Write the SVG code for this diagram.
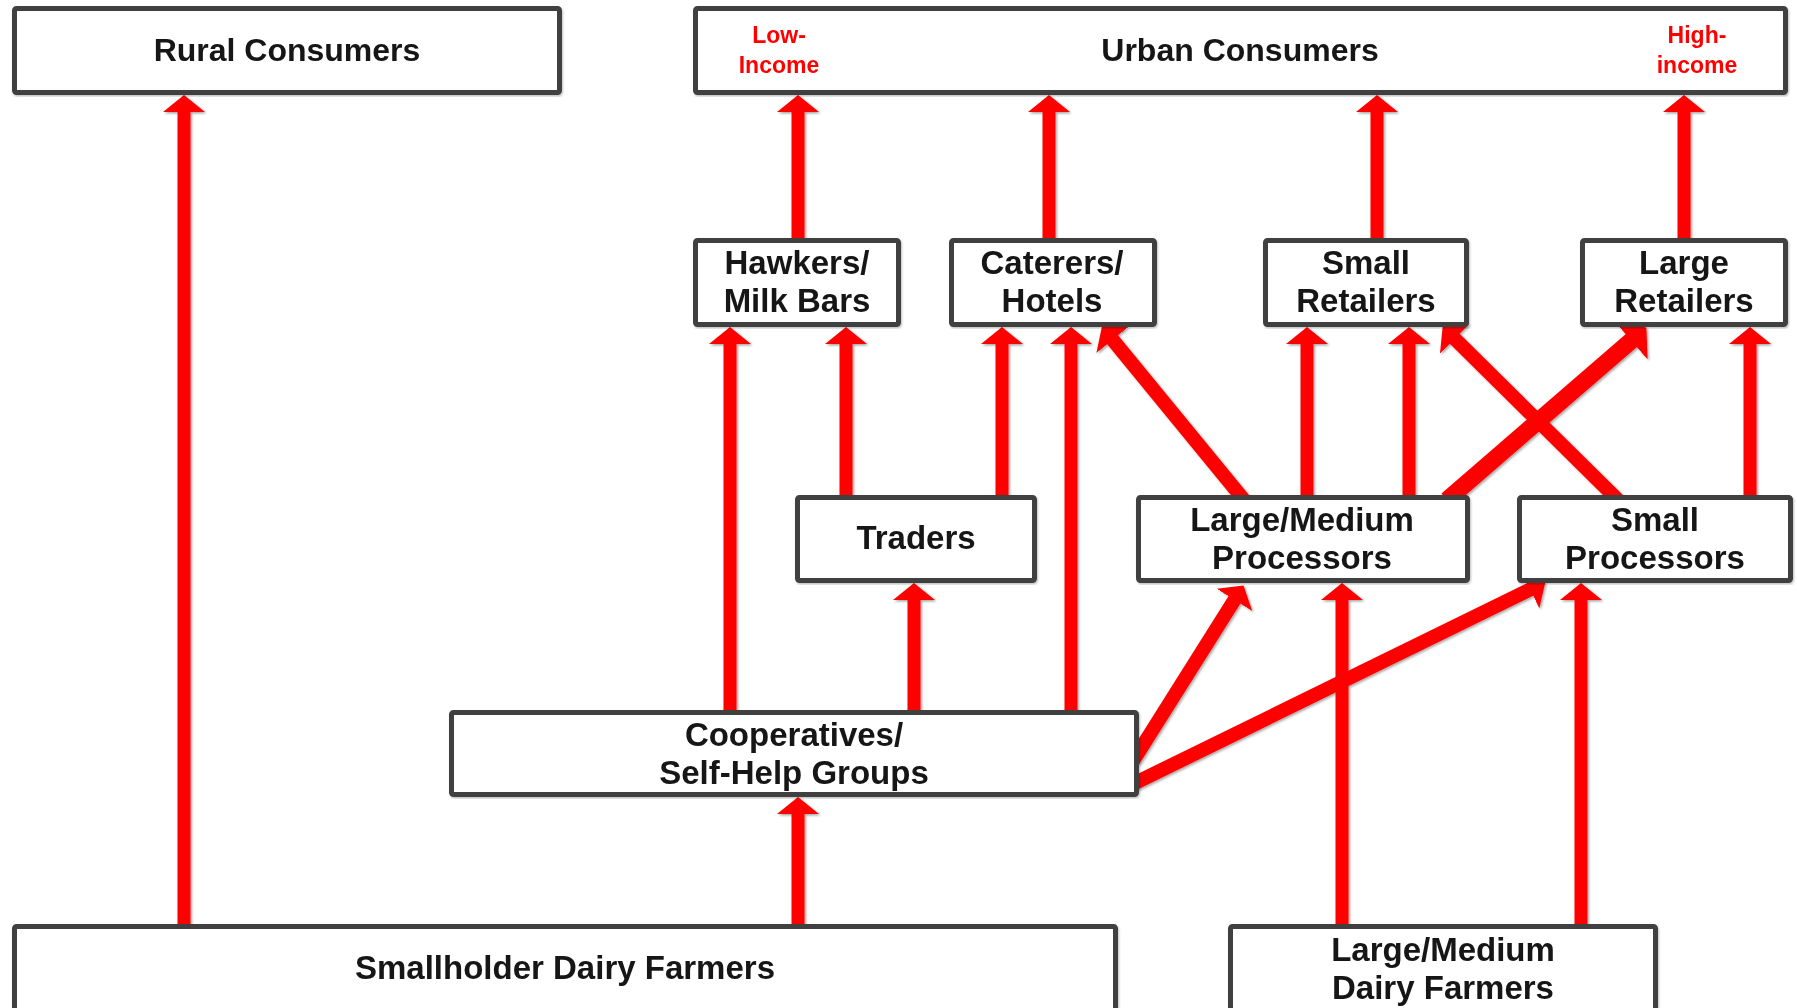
<svg xmlns="http://www.w3.org/2000/svg" width="1797" height="1008" viewBox="0 0 1797 1008">
<style>
.box{fill:#fff;stroke:#404040;stroke-width:5;}
.lbl{font-family:"Liberation Sans",Arial,sans-serif;font-weight:bold;font-size:33px;fill:#141414;text-anchor:middle;}
.big{font-size:32px;}
.red{font-family:"Liberation Sans",Arial,sans-serif;font-weight:bold;font-size:23px;fill:#ff0000;text-anchor:middle;}
.arr{stroke:#ff0000;stroke-width:13;fill:none;marker-end:url(#head);}
.diag{stroke-width:14;}
.thick{stroke-width:17;marker-end:url(#headBig);}
</style>
<defs>
<marker id="head" markerUnits="userSpaceOnUse" viewBox="0 -22 18 44" markerWidth="18" markerHeight="44" refX="1" refY="0" orient="auto">
<path d="M0,-21 L17,0 L0,21 z" fill="#ff0000"/>
</marker>
<marker id="headBig" markerUnits="userSpaceOnUse" viewBox="0 -26 21 52" markerWidth="21" markerHeight="52" refX="1" refY="0" orient="auto">
<path d="M0,-25 L20,0 L0,25 z" fill="#ff0000"/>
</marker>
<filter id="sh" x="-20%" y="-20%" width="140%" height="140%">
<feDropShadow dx="1.5" dy="1.5" stdDeviation="1" flood-color="#000" flood-opacity="0.35"/>
</filter>
<filter id="bsh" x="-5%" y="-5%" width="110%" height="110%">
<feDropShadow dx="1" dy="1.5" stdDeviation="1" flood-color="#000" flood-opacity="0.25"/>
</filter>
</defs>
<rect width="1797" height="1008" fill="#fff"/>
<g id="connectors" filter="url(#sh)">
<line class="arr" x1="184" y1="930" x2="184" y2="111"/>
<line class="arr" x1="798" y1="930" x2="798" y2="813"/>
<line class="arr" x1="730" y1="716" x2="730" y2="343"/>
<line class="arr" x1="914" y1="716" x2="914" y2="599"/>
<line class="arr" x1="1071" y1="716" x2="1071" y2="343"/>
<line class="arr" x1="846" y1="501" x2="846" y2="343"/>
<line class="arr" x1="1002" y1="501" x2="1002" y2="343"/>
<line class="arr" x1="1307" y1="501" x2="1307" y2="343"/>
<line class="arr" x1="1409" y1="501" x2="1409" y2="343"/>
<line class="arr" x1="1750" y1="501" x2="1750" y2="343"/>
<line class="arr" x1="798" y1="244" x2="798" y2="111"/>
<line class="arr" x1="1049" y1="244" x2="1049" y2="111"/>
<line class="arr" x1="1377" y1="244" x2="1377" y2="111"/>
<line class="arr" x1="1684" y1="244" x2="1684" y2="111"/>
<line class="arr" x1="1342" y1="930" x2="1342" y2="599"/>
<line class="arr" x1="1581" y1="930" x2="1581" y2="599"/>
<line class="arr diag" x1="1244" y1="500" x2="1112" y2="339"/>
<line class="arr diag" x1="1618" y1="500" x2="1454" y2="338"/>
<line class="arr thick" x1="1447" y1="500" x2="1632" y2="340"/>
<line class="arr diag" x1="1133" y1="761" x2="1235" y2="599"/>
<line class="arr diag" x1="1133" y1="784" x2="1531" y2="589"/>
</g>
<g id="rural" filter="url(#bsh)">
<rect class="box" x="14.5" y="8.5" width="545" height="84" rx="2"/>
<text class="lbl big" x="287" y="61">Rural Consumers</text>
</g>
<g id="urban" filter="url(#bsh)">
<rect class="box" x="695.5" y="8.5" width="1090" height="84" rx="2"/>
<text class="lbl big" x="1240" y="61">Urban Consumers</text>
<text class="red" x="779" y="43">Low-</text>
<text class="red" x="779" y="73">Income</text>
<text class="red" x="1697" y="43">High-</text>
<text class="red" x="1697" y="73">income</text>
</g>
<g id="hawkers" filter="url(#bsh)">
<rect class="box" x="695.5" y="240.5" width="203" height="84" rx="2"/>
<text class="lbl" x="797" y="274">Hawkers/</text>
<text class="lbl" x="797" y="312">Milk Bars</text>
</g>
<g id="caterers" filter="url(#bsh)">
<rect class="box" x="951.5" y="240.5" width="203" height="84" rx="2"/>
<text class="lbl" x="1052" y="274">Caterers/</text>
<text class="lbl" x="1052" y="312">Hotels</text>
</g>
<g id="small-retailers" filter="url(#bsh)">
<rect class="box" x="1265.5" y="240.5" width="201" height="84" rx="2"/>
<text class="lbl" x="1366" y="274">Small</text>
<text class="lbl" x="1366" y="312">Retailers</text>
</g>
<g id="large-retailers" filter="url(#bsh)">
<rect class="box" x="1582.5" y="240.5" width="203" height="84" rx="2"/>
<text class="lbl" x="1684" y="274">Large</text>
<text class="lbl" x="1684" y="312">Retailers</text>
</g>
<g id="traders" filter="url(#bsh)">
<rect class="box" x="797.5" y="497.5" width="237" height="83" rx="2"/>
<text class="lbl" x="916" y="549">Traders</text>
</g>
<g id="lm-processors" filter="url(#bsh)">
<rect class="box" x="1138.5" y="497.5" width="329" height="83" rx="2"/>
<text class="lbl" x="1302" y="531">Large/Medium</text>
<text class="lbl" x="1302" y="569">Processors</text>
</g>
<g id="small-processors" filter="url(#bsh)">
<rect class="box" x="1519.5" y="497.5" width="271" height="83" rx="2"/>
<text class="lbl" x="1655" y="531">Small</text>
<text class="lbl" x="1655" y="569">Processors</text>
</g>
<g id="cooperatives" filter="url(#bsh)">
<rect class="box" x="451.5" y="712.5" width="685" height="82" rx="2"/>
<text class="lbl" x="794" y="746">Cooperatives/</text>
<text class="lbl" x="794" y="784">Self-Help Groups</text>
</g>
<g id="smallholder" filter="url(#bsh)">
<rect class="box" x="14.5" y="926.5" width="1101" height="84" rx="2"/>
<text class="lbl" x="565" y="979">Smallholder Dairy Farmers</text>
</g>
<g id="lm-farmers" filter="url(#bsh)">
<rect class="box" x="1230.5" y="926.5" width="425" height="84" rx="2"/>
<text class="lbl" x="1443" y="961">Large/Medium</text>
<text class="lbl" x="1443" y="999">Dairy Farmers</text>
</g>
</svg>
